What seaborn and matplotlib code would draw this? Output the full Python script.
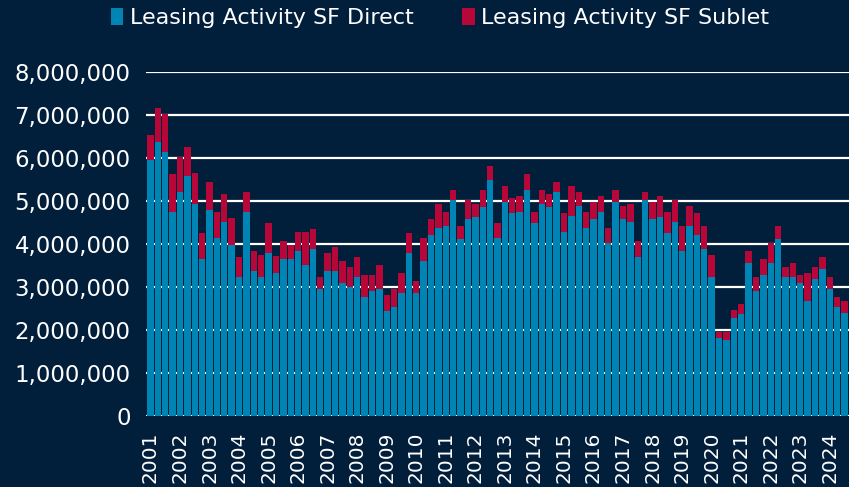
import matplotlib
matplotlib.use("Agg")
import matplotlib.pyplot as plt
from matplotlib.patches import Patch
from matplotlib.ticker import FuncFormatter
import seaborn as sns
import pandas as pd

# ---- data (SF, in thousands) ----
years = [str(y) for y in range(2001, 2025)]
quarters = [f"{y} Q{q}" for y in range(2001, 2025) for q in range(1, 5)][:95]

direct_k = [
    5950, 6380, 6150, 4750, 5210, 5570, 4940, 3650, 4800, 4150, 4520, 3970,
    3230, 4750, 3370, 3230, 3780, 3320, 3650, 3650, 3830, 3510, 3880, 2960,
    3370, 3370, 3090, 3000, 3230, 2770, 2910, 2950, 2450, 2540, 2860, 3780,
    2860, 3600, 4200, 4380, 4430, 5030, 4110, 4570, 4620, 4850, 5490, 4150,
    4980, 4710, 4750, 5260, 4480, 4940, 4850, 5220, 4290, 4660, 4890, 4380,
    4570, 4750, 4020, 4980, 4570, 4520, 3690, 5030, 4570, 4620, 4250, 4520,
    3830, 4430, 4200, 3880, 3230, 1820, 1770, 2280, 2370, 3550, 2910, 3280,
    3550, 4110, 3230, 3230, 3090, 2680, 3180, 3420, 2950, 2540, 2400,
]
sublet_k = [
    580, 790, 880, 870, 810, 680, 720, 600, 640, 600, 640, 640,
    460, 460, 460, 510, 700, 410, 410, 320, 460, 780, 460, 270,
    410, 550, 510, 460, 460, 510, 370, 560, 370, 420, 460, 470,
    280, 550, 370, 560, 320, 230, 320, 460, 320, 410, 330, 330,
    370, 370, 370, 370, 270, 320, 320, 230, 420, 690, 330, 370,
    410, 370, 360, 280, 320, 420, 370, 190, 410, 500, 500, 510,
    600, 460, 510, 550, 510, 130, 180, 180, 230, 280, 320, 370,
    470, 320, 230, 320, 190, 640, 280, 270, 280, 230, 280,
]
y_ticks = [0, 1000000, 2000000, 3000000, 4000000, 5000000, 6000000, 7000000, 8000000]
series_names = ["Leasing Activity SF Direct", "Leasing Activity SF Sublet"]

df = pd.DataFrame({
    "quarter": quarters,
    "direct": [d * 1000 for d in direct_k],
    "sublet": [s * 1000 for s in sublet_k],
})
df["total"] = df["direct"] + df["sublet"]

BG = "#011E3B"
BLUE = "#0084B4"
RED = "#B70739"

sns.set_style("white")
plt.rcParams["font.family"] = ["DejaVu Sans"]

fig = plt.figure(figsize=(8.49, 4.87), dpi=100, facecolor=BG)
ax = fig.add_axes([146 / 849, 1 - 416 / 487, (849 - 146) / 849, (416 - 72) / 487])
ax.set_facecolor(BG)

sns.barplot(data=df, x="quarter", y="total", color=RED, saturation=1,
            width=0.86, linewidth=0, ax=ax, errorbar=None)
sns.barplot(data=df, x="quarter", y="direct", color=BLUE, saturation=1,
            width=0.86, linewidth=0, ax=ax, errorbar=None)

ax.set_xlim(-0.6, len(quarters) - 0.4)
ax.set_ylim(0, 8000000)
ax.set_yticks(y_ticks)
ax.yaxis.set_major_formatter(FuncFormatter(lambda v, p: f"{int(v):,}"))
ax.set_xticks(range(0, len(quarters), 4))
ax.set_xticklabels(years, rotation=90)

ax.set_axisbelow(True)
ax.yaxis.grid(True, color="white", linewidth=1.6)
ax.xaxis.grid(False)
for s in ax.spines.values():
    s.set_visible(False)
ax.tick_params(axis="y", length=0, pad=11, labelsize=16.5, colors="white")
ax.tick_params(axis="x", length=0, pad=11, labelsize=14.5, colors="white")
ax.set_xlabel("")
ax.set_ylabel("")

handles = [Patch(facecolor=BLUE, edgecolor="none"), Patch(facecolor=RED, edgecolor="none")]
fig.legend(handles, series_names, loc="center", bbox_to_anchor=(440 / 849, 1 - 18 / 487),
           ncol=2, frameon=False, fontsize=16, labelcolor="white",
           handlelength=0.55, handleheight=0.8, handletextpad=0.3, columnspacing=2.2,
           borderaxespad=0)

fig.savefig("out.png", dpi=100, facecolor=BG)
